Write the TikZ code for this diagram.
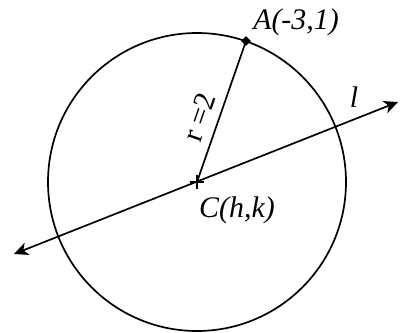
\documentclass[tikz,border=0pt]{standalone}
\usepackage{fontspec}
\setmainfont{Liberation Serif}
\usepackage{tikz}
\usetikzlibrary{arrows.meta, shapes.geometric}

\begin{document}
\begin{tikzpicture}[
  x=1bp, y=-1bp,
  lbl/.style={font=\fontsize{30}{34}\selectfont\itshape, inner sep=0pt},
  pt/.style={diamond, fill=black, inner sep=0pt, minimum size=10bp},
  >={Stealth[length=14bp, width=13bp, inset=4bp]}
]
\useasboundingbox (0,0) rectangle (401,333);

\coordinate (C) at (197,182);
\node[pt] (A) at (246,41) {};
\coordinate (L1) at (14,254);
\coordinate (L2) at (398,102);

\draw[line width=1.7bp] (C) circle (149);
\draw[line width=1.7bp] (C) -- (A.center);
\draw[line width=1.7bp, <->] (L1) -- (L2);
\draw[line width=1.3bp] (190,182) -- (204,182) (197,175) -- (197,189);

\node[lbl] (Alab) at (296,22) {A(-3,1)};
\node[lbl] (Clab) at (237,210) {C(h,k)};
\node[lbl] (llab) at (354,97) {l};
\node[font=\fontsize{30}{34}\selectfont, inner sep=0pt, rotate=71] (rlab) at (199,117) {r =2};
\end{tikzpicture}
\end{document}
